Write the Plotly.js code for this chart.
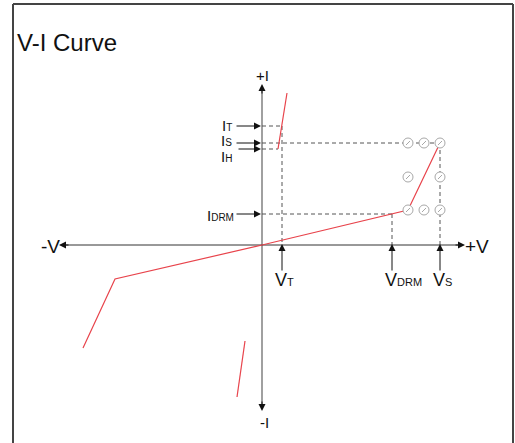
<!DOCTYPE html>
<html>
<head>
<meta charset="utf-8">
<script src="https://cdn.plot.ly/plotly-3.0.1.min.js"></script>
<style>html,body{margin:0;padding:0;background:#fff;}#chart{width:515px;height:443px;}</style>
</head>
<body>
<div id="chart"></div>
<script>
// Diagram coordinates: V (horizontal) and I (vertical), origin at the axes crossing
var curveV = [-179, -147, 0, 146, 178];
var curveI = [-103, -34, 0, 35, 102];
var onV = [16, 25];
var onI = [96, 152];
var revV = [-17, -25];
var revI = [-96, -152];

var levelNames = ["T", "S", "H", "DRM"];
var levelI = [119, 102, 96, 31];
var levelEndV = [20, 178, 16, 130];

var voltNames = ["T", "DRM", "S"];
var voltV = [20, 130, 178];
var voltTopI = [119, 31, 102];

var circV = [146, 162, 178, 146, 178, 146, 162, 178];
var circI = [102, 102, 102, 68, 68, 35, 35, 35];

var RED = "#e8434b";
var DASH = "#555555";
var FONT = "Liberation Sans, Arial, sans-serif";

var traces = [];
// dashed guide lines
for (var i = 0; i < levelI.length; i++) {
  traces.push({x: [0, levelEndV[i]], y: [levelI[i], levelI[i]], mode: "lines",
    line: {color: DASH, width: 1, dash: "4px,3px"}, hoverinfo: "skip"});
}
for (var j = 0; j < voltV.length; j++) {
  traces.push({x: [voltV[j], voltV[j]], y: [voltTopI[j], 0], mode: "lines",
    line: {color: DASH, width: 1, dash: "4px,3px"}, hoverinfo: "skip"});
}
// red curves
traces.push({x: curveV, y: curveI, mode: "lines", line: {color: RED, width: 1.2}});
traces.push({x: onV, y: onI, mode: "lines", line: {color: RED, width: 1.2}});
traces.push({x: revV, y: revI, mode: "lines", line: {color: RED, width: 1.2}});
// circle markers with slash
traces.push({x: circV, y: circI, mode: "markers",
  marker: {symbol: "circle", size: 10, color: "#ffffff", line: {color: "#a8a8a8", width: 1}}});
traces.push({x: circV, y: circI, mode: "markers",
  marker: {symbol: "line-ne", size: 4, color: "#a8a8a8", line: {color: "#a8a8a8", width: 1}}});

var shapes = [
  // frame
  {type: "line", x0: -249, x1: -249, y0: 241, y1: -200, line: {color: "#444", width: 2}},
  {type: "line", x0: -249, x1: 251, y0: 241, y1: 241, line: {color: "#444", width: 2}},
  {type: "line", x0: 251, x1: 251, y0: 241, y1: -200, line: {color: "#444", width: 2}},
  // axes
  {type: "line", x0: 0, x1: 0, y0: 158, y1: -163, line: {color: "#a0a0a0", width: 2}, layer: "below"},
  {type: "line", x0: -200, x1: 199, y0: 0, y1: 0, line: {color: "#333", width: 1}, layer: "below"}
];

function sub(main, s, big, small) {
  return "<span style='font-size:" + big + "px'>" + main + "</span><span style='font-size:" + small + "px'>" + s + "</span>";
}
function arrow(x, y, ax, ay) {
  return {x: x, y: y, ax: ax, ay: ay, xref: "x", yref: "y", axref: "x", ayref: "y",
    text: "", showarrow: true, arrowhead: 2, arrowsize: 1.4, arrowwidth: 1, arrowcolor: "#111", standoff: 0};
}
function label(x, y, t, size, xa) {
  return {x: x, y: y, xref: "x", yref: "y", text: t, showarrow: false,
    xanchor: xa || "center", yanchor: "middle", font: {family: FONT, size: size, color: "#111"}};
}

var annotations = [];
// axis arrowheads
annotations.push(arrow(-203, 0, -192, 0));
annotations.push(arrow(203, 0, 192, 0));
annotations.push(arrow(0, 161, 0, 150));
annotations.push(arrow(0, -166, 0, -155));
// axis labels
annotations.push(label(0, 170, "+I", 15));
annotations.push(label(2, -177, "-I", 15));
annotations.push(label(-212, -1, "-V", 19));
annotations.push(label(215, -1, "+V", 19));
// current level arrows and labels
var labelLeftI = [120, 105, 89, 30];
var labelX = [-28, -28, -28, -26];
for (var k = 0; k < levelI.length; k++) {
  annotations.push(arrow(-1, levelI[k], k === 2 ? -25 : -27, levelI[k]));
  annotations.push(label(labelX[k], labelLeftI[k], sub("I", levelNames[k], 15, 10), 15, "right"));
}
// voltage arrows and labels
var voltLabelX = [22, 141, 180];
for (var m = 0; m < voltV.length; m++) {
  annotations.push(arrow(voltV[m], 1, voltV[m], -27));
  annotations.push(label(voltLabelX[m], -35, sub("V", voltNames[m], 18, 11), 18));
}

var layout = {
  width: 515, height: 443,
  margin: {l: 0, r: 0, t: 0, b: 0},
  paper_bgcolor: "#ffffff", plot_bgcolor: "#ffffff",
  showlegend: false,
  title: {text: "V-I Curve", x: 17 / 515, xanchor: "left", xref: "paper",
    y: 1 - 43 / 443, yanchor: "middle", yref: "container",
    font: {family: FONT, size: 24, color: "#111"}},
  xaxis: {range: [-262, 253], visible: false, fixedrange: true},
  yaxis: {range: [-198, 245], visible: false, fixedrange: true},
  shapes: shapes,
  annotations: annotations,
  hovermode: false
};

Plotly.newPlot("chart", traces, layout, {staticPlot: true, displayModeBar: false});
</script>
</body>
</html>
